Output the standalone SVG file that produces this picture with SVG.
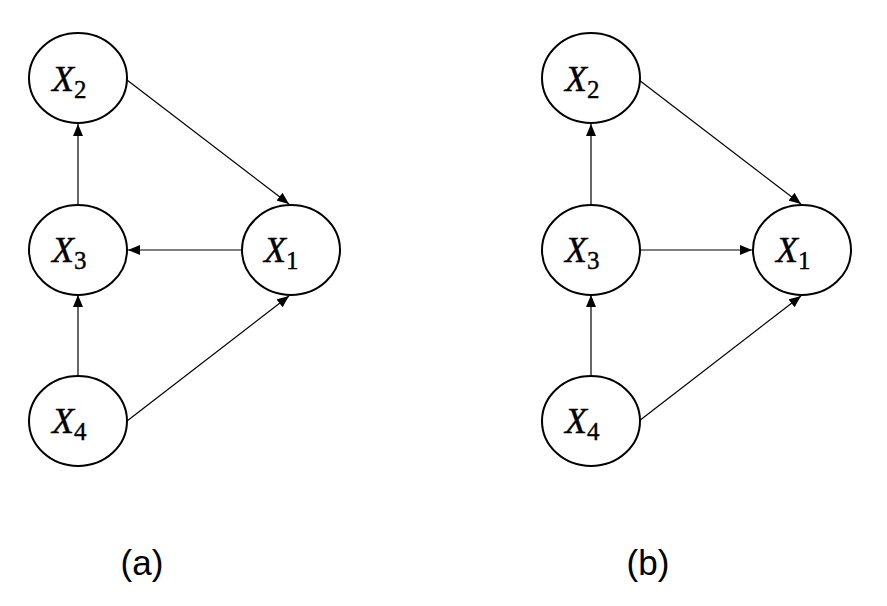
<svg xmlns="http://www.w3.org/2000/svg" width="887" height="606" viewBox="0 0 887 606">
<style>
.node ellipse{fill:#fff;stroke:#000;stroke-width:2}
.node text{font-family:"Liberation Serif",serif;fill:#000;stroke:#000;stroke-width:0.4}
.v{font-style:italic;font-size:36px}
.s{font-size:25px;font-style:normal}
.edges line{stroke:#000;stroke-width:1.2;marker-end:url(#ah)}
.cap{font-family:"Liberation Sans",Arial,sans-serif;font-size:35px;fill:#000}
</style>
<defs>
<marker id="ah" viewBox="0 0 12 10" refX="12" refY="5" markerWidth="12" markerHeight="10" markerUnits="userSpaceOnUse" orient="auto">
<path d="M0,0 L12,5 L0,10 z" fill="#000"/>
</marker>
</defs>
<rect width="887" height="606" fill="#fff"/>
<g class="edges">
<line x1="127" y1="80" x2="289" y2="204"/>
<line x1="78" y1="205" x2="78" y2="124"/>
<line x1="242" y1="250" x2="128" y2="250"/>
<line x1="78" y1="376" x2="78" y2="295"/>
<line x1="127" y1="421" x2="289" y2="296"/>
<line x1="639" y1="80" x2="801" y2="204"/>
<line x1="591" y1="205" x2="591" y2="124"/>
<line x1="639" y1="250" x2="752" y2="250"/>
<line x1="591" y1="376" x2="591" y2="295"/>
<line x1="639" y1="421" x2="801" y2="296"/>
</g>
<g id="a-x2" class="node"><ellipse cx="78" cy="78" rx="49" ry="45"/><text x="52" y="91"><tspan class="v">X</tspan><tspan class="s" dy="7">2</tspan></text></g>
<g id="a-x3" class="node"><ellipse cx="78" cy="250" rx="49" ry="45"/><text x="52" y="262"><tspan class="v">X</tspan><tspan class="s" dy="7">3</tspan></text></g>
<g id="a-x1" class="node"><ellipse cx="291" cy="250" rx="49" ry="45"/><text x="264" y="262"><tspan class="v">X</tspan><tspan class="s" dy="7">1</tspan></text></g>
<g id="a-x4" class="node"><ellipse cx="78" cy="421" rx="49" ry="45"/><text x="52" y="433"><tspan class="v">X</tspan><tspan class="s" dy="7">4</tspan></text></g>
<g id="b-x2" class="node"><ellipse cx="591" cy="78" rx="49" ry="45"/><text x="565" y="91"><tspan class="v">X</tspan><tspan class="s" dy="7">2</tspan></text></g>
<g id="b-x3" class="node"><ellipse cx="591" cy="250" rx="49" ry="45"/><text x="565" y="262"><tspan class="v">X</tspan><tspan class="s" dy="7">3</tspan></text></g>
<g id="b-x1" class="node"><ellipse cx="802" cy="250" rx="49" ry="45"/><text x="776" y="262"><tspan class="v">X</tspan><tspan class="s" dy="7">1</tspan></text></g>
<g id="b-x4" class="node"><ellipse cx="591" cy="421" rx="49" ry="45"/><text x="565" y="433"><tspan class="v">X</tspan><tspan class="s" dy="7">4</tspan></text></g>
<text class="cap" x="142" y="575" text-anchor="middle">(a)</text>
<text class="cap" x="648" y="575" text-anchor="middle">(b)</text>
</svg>
